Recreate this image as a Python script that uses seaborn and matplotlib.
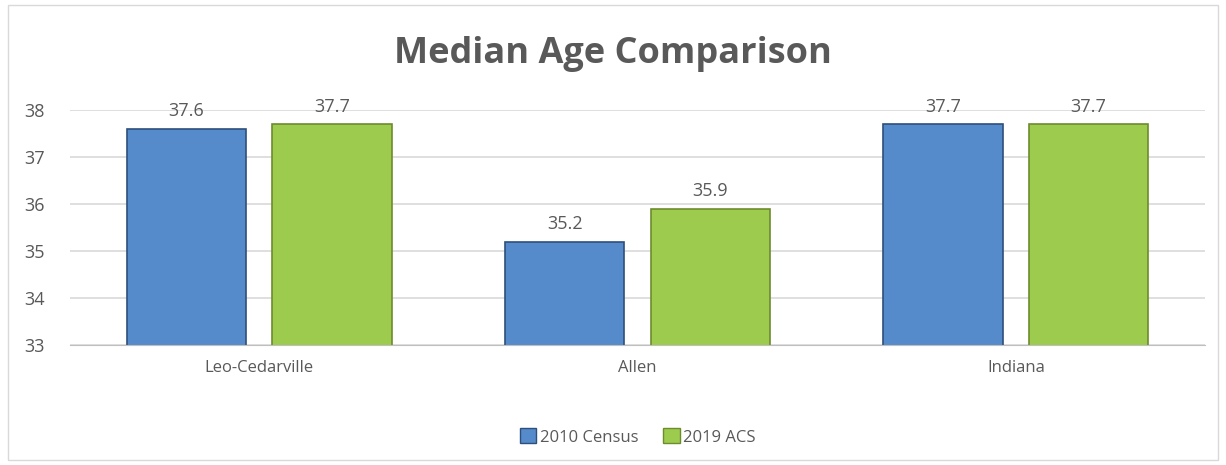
import matplotlib
matplotlib.use('Agg')
import matplotlib.pyplot as plt
import seaborn as sns
import pandas as pd
from matplotlib.patches import Rectangle

places = ['Leo-Cedarville', 'Allen', 'Indiana']
census_2010 = [37.6, 35.2, 37.7]
acs_2019 = [37.7, 35.9, 37.7]
series = ['2010 Census', '2019 ACS']
colors = ['#558ACB', '#9DCB4E']
edges = ['#2E4F7A', '#6E8B2E']

df = pd.DataFrame({
    'Place': places * 2,
    'Series': [series[0]] * 3 + [series[1]] * 3,
    'Age': census_2010 + acs_2019,
})

sns.set_style('white')
plt.rcParams['font.family'] = ['Open Sans', 'DejaVu Sans']
txt = '#595959'

fig = plt.figure(figsize=(12.26, 4.65), dpi=100)
ax = fig.add_axes([70 / 1226, 1 - 345 / 465, 1135 / 1226, 235 / 465])

sns.barplot(data=df, x='Place', y='Age', hue='Series', palette=colors,
            saturation=1, width=0.77, gap=0.18, ax=ax, legend=True)

for i, cont in enumerate(ax.containers):
    for bar in cont:
        bar.set_edgecolor(edges[i])
        bar.set_linewidth(1.2)
    ax.bar_label(cont, fmt='%.1f', padding=6, fontsize=13, color=txt)

ax.set_ylim(33, 38)
ax.set_yticks(range(33, 39))
ax.yaxis.grid(True, color='#D9D9D9', linewidth=1.2)
ax.set_axisbelow(True)
for s in ['left', 'right', 'top']:
    ax.spines[s].set_visible(False)
ax.spines['bottom'].set_color('#BFBFBF')
ax.tick_params(axis='x', labelsize=12, colors=txt, length=0, pad=11)
ax.tick_params(axis='y', labelsize=13, colors=txt, length=0, pad=18)
ax.set_xlabel('')
ax.set_ylabel('')

fig.text(0.5, 1 - 54 / 465, 'Median Age Comparison', ha='center', va='center',
         fontsize=26, fontweight='bold', color=txt)

handles, labels = ax.get_legend_handles_labels()
for h, e in zip(handles, edges):
    h.set_edgecolor(e)
ax.legend(handles, labels, loc='center', bbox_to_anchor=(0.5, (345 - 437) / 235),
          ncol=2, frameon=False, fontsize=12, handlelength=1.0, handleheight=1.0,
          columnspacing=1.5, handletextpad=0.2, labelcolor=txt)

fig.patches.append(Rectangle((8 / 1226, 5 / 465), 1210 / 1226, 455 / 465,
                             transform=fig.transFigure, fill=False,
                             edgecolor='#D9D9D9', linewidth=1))

fig.savefig('out.png', dpi=100)
